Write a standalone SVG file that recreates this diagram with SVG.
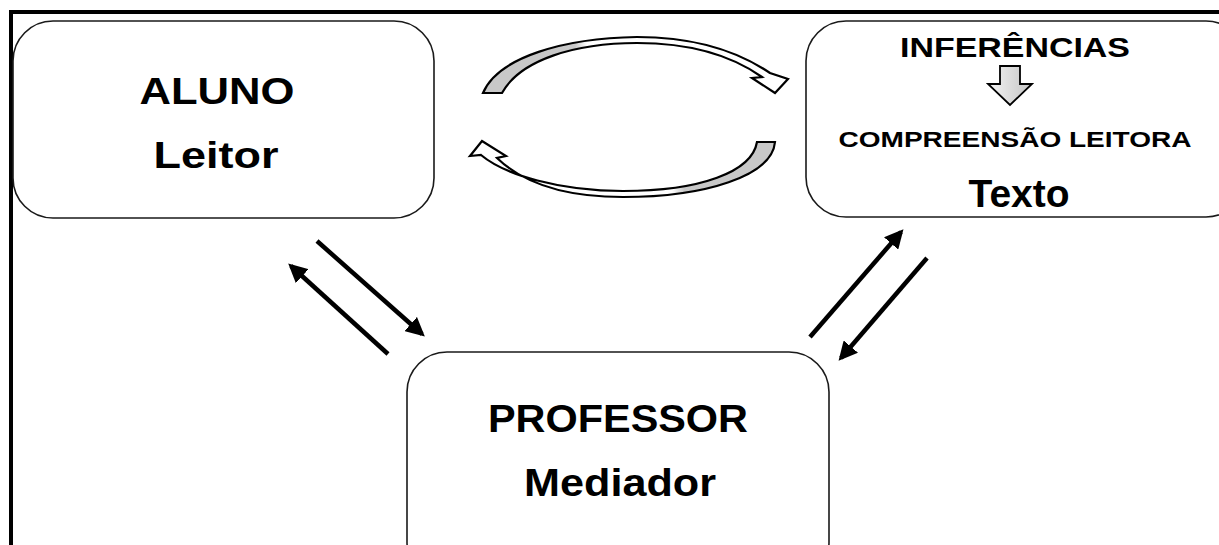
<svg xmlns="http://www.w3.org/2000/svg" width="1219" height="545" viewBox="0 0 1219 545">
<defs>
<style>
.box{fill:#fff;stroke:#1a1a1a;stroke-width:1.6}
.t{font-family:"Liberation Sans",Arial,sans-serif;font-weight:bold;fill:#000;text-anchor:middle}
.ln{stroke:#000;stroke-width:4.5;fill:none}
.curv{stroke:#000;stroke-width:2.2;stroke-linejoin:miter}
</style>
<marker id="ah" viewBox="0 0 10 10" refX="8" refY="5" markerWidth="4.2" markerHeight="4.2" orient="auto" markerUnits="strokeWidth">
<path d="M0,0 L10,5 L0,10 Z" fill="#000"/>
</marker>
<linearGradient id="gTop" x1="483" y1="0" x2="790" y2="0" gradientUnits="userSpaceOnUse">
<stop offset="0" stop-color="#c8c8c8"/>
<stop offset="0.3" stop-color="#c8c8c8"/>
<stop offset="0.34" stop-color="#fff"/>
<stop offset="1" stop-color="#fff"/>
</linearGradient>
<linearGradient id="gBot" x1="470" y1="0" x2="776" y2="0" gradientUnits="userSpaceOnUse">
<stop offset="0" stop-color="#fff"/>
<stop offset="0.66" stop-color="#fff"/>
<stop offset="0.7" stop-color="#c8c8c8"/>
<stop offset="1" stop-color="#c8c8c8"/>
</linearGradient>
<linearGradient id="gArrow" x1="0" y1="0" x2="1" y2="0">
<stop offset="0" stop-color="#f4f4f4"/>
<stop offset="1" stop-color="#c4c4c4"/>
</linearGradient>
</defs>
<rect width="1219" height="545" fill="#fff"/>
<g id="frame">
<path d="M11,545 L11,12 L1219,12" fill="none" stroke="#000" stroke-width="4"/>
</g>
<g id="aluno">
<rect class="box" x="13" y="21" width="421" height="197" rx="40"/>
<text class="t" x="217" y="104" font-size="37" textLength="155" lengthAdjust="spacingAndGlyphs">ALUNO</text>
<text class="t" x="216" y="168" font-size="37" textLength="125" lengthAdjust="spacingAndGlyphs">Leitor</text>
</g>
<g id="texto">
<rect class="box" x="806" y="21" width="440" height="196" rx="40"/>
<text class="t" x="1015" y="57" font-size="28" textLength="230" lengthAdjust="spacingAndGlyphs">INFERÊNCIAS</text>
<path d="M1000,66 L1020,66 L1020,84 L1032,84 L1010,105 L988,84 L1000,84 Z" fill="url(#gArrow)" stroke="#000" stroke-width="1.8"/>
<text class="t" x="1015" y="147" font-size="22" textLength="353" lengthAdjust="spacingAndGlyphs">COMPREENSÃO LEITORA</text>
<text class="t" x="1019" y="207" font-size="38" textLength="101" lengthAdjust="spacingAndGlyphs">Texto</text>
</g>
<g id="professor">
<rect class="box" x="407" y="352" width="422" height="230" rx="40"/>
<text class="t" x="618" y="432" font-size="38" textLength="260" lengthAdjust="spacingAndGlyphs">PROFESSOR</text>
<text class="t" x="620" y="496" font-size="38" textLength="192" lengthAdjust="spacingAndGlyphs">Mediador</text>
</g>
<g id="connectors">
<path class="curv" fill="url(#gTop)" d="M483,93 C498,57 565,38 637,37 C700,37 742,54 770,73 L788,79 L775,93 L752,78 L762,77 C738,60 700,43 637,43 C575,43 520,60 502,93 Z"/>
<path class="curv" fill="url(#gBot)" d="M757,142 L775,142 C772,176 705,197 623,197 C560,197 522,182 497,158 L506,156 L482,141 L470,156 L481,155 C505,175 560,191 623,191 C700,191 752,172 757,142 Z"/>
<line class="ln" x1="317" y1="241" x2="422" y2="334" marker-end="url(#ah)"/>
<line class="ln" x1="388" y1="354" x2="291" y2="266" marker-end="url(#ah)"/>
<line class="ln" x1="810" y1="337" x2="901" y2="232" marker-end="url(#ah)"/>
<line class="ln" x1="927" y1="258" x2="841" y2="358" marker-end="url(#ah)"/>
</g>
</svg>
